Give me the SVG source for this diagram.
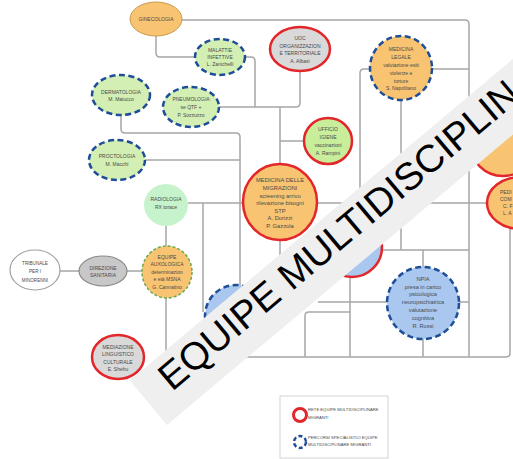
<svg xmlns="http://www.w3.org/2000/svg" width="513" height="459" viewBox="0 0 513 459">
<style>
.ln{fill:none;stroke:#a6a6a6;stroke-width:1.5;stroke-linejoin:round}
.t{font-family:"Liberation Sans",Arial,sans-serif;fill:#4a4a4a;text-anchor:middle;font-size:5px}
.or{fill:#f8c471}
.gr{fill:#d3efb3}
.bl{fill:#a9c7ef}
.gy{fill:#d9d9d9}
.dash{stroke:#1f4e99;stroke-width:2.5;stroke-dasharray:6 3.5}
.red{stroke:#e3262a;stroke-width:2.5}
</style>
<rect width="513" height="459" fill="#fff"/>
<g id="connectors">
<path class="ln" d="M182 20H465Q469 20 469 24V357"/>
<path class="ln" d="M156 36V53Q156 57 160 57H196"/>
<path class="ln" d="M245 57H251Q255 57 255 61V107"/>
<path class="ln" d="M219 107H296Q300 107 300 103V72"/>
<path class="ln" d="M280 107V165"/>
<path class="ln" d="M304 141H280"/>
<path class="ln" d="M121 115V129Q121 133 125 133H236Q240 133 240 137V287"/>
<path class="ln" d="M145 160H240"/>
<path class="ln" d="M188 203H244"/>
<path class="ln" d="M203 203V312"/>
<path class="ln" d="M166 226V246"/>
<path class="ln" d="M60 271H79"/>
<path class="ln" d="M127 271H142"/>
<path class="ln" d="M166 298V353Q166 357 170 357H238"/>
<path class="ln" d="M280 240V300"/>
<path class="ln" d="M317 203H488"/>
<path class="ln" d="M370 69H364Q360 69 360 73V203"/>
<path class="ln" d="M432 69H469"/>
<path class="ln" d="M401 100V250"/>
<path class="ln" d="M383 250H469"/>
<path class="ln" d="M423 250V267"/>
<path class="ln" d="M318 302H387"/>
<path class="ln" d="M459 302H469"/>
<path class="ln" d="M423 339V357"/>
<path class="ln" d="M350 277V357"/>
<path class="ln" d="M350 312H309Q305 312 305 316V357"/>
<path class="ln" d="M237 347V357H506Q510 357 510 353V229"/>
</g>
<g id="ginecologia">
<ellipse class="or" cx="156" cy="19" rx="26" ry="17" stroke="#c99a52" stroke-width="1"/>
<text class="t" x="156" y="21">GINECOLOGIA</text>
</g>
<g id="malattie-infettive">
<ellipse class="gr dash" cx="220" cy="57" rx="25" ry="18"/>
<text class="t" x="220" y="52">MALATTIE</text>
<text class="t" x="220" y="59">INFETTIVE</text>
<text class="t" x="220" y="66">L. Zanichelli</text>
</g>
<g id="uoc">
<ellipse class="gy red" cx="300" cy="49" rx="30" ry="22"/>
<text class="t" x="300" y="40">UOC</text>
<text class="t" x="300" y="47.5">ORGANIZZAZION</text>
<text class="t" x="300" y="55">E TERRITORIALE</text>
<text class="t" x="300" y="63">A. Albasi</text>
</g>
<g id="medicina-legale">
<ellipse class="or dash" cx="401" cy="68" rx="31" ry="32"/>
<text class="t" x="401" y="51">MEDICINA</text>
<text class="t" x="401" y="59">LEGALE</text>
<text class="t" x="401" y="67">valutazione esiti</text>
<text class="t" x="401" y="75">violenze e</text>
<text class="t" x="401" y="83">torture</text>
<text class="t" x="401" y="90">S. Napolitano</text>
</g>
<g id="dermatologia">
<ellipse class="gr dash" cx="121" cy="95" rx="29" ry="20"/>
<text class="t" x="121" y="94">DERMATOLOGIA</text>
<text class="t" x="121" y="101">M. Maiucco</text>
</g>
<g id="pneumologia">
<ellipse class="gr dash" cx="191" cy="107" rx="28" ry="20"/>
<text class="t" x="191" y="101">PNEUMOLOGIA</text>
<text class="t" x="191" y="109">se QTF +</text>
<text class="t" x="191" y="117">P. Sozzuzzo</text>
</g>
<g id="ufficio-igiene">
<ellipse cx="328" cy="141" rx="24" ry="23" fill="#c8ee9c" class="red"/>
<text class="t" x="328" y="131">UFFICIO</text>
<text class="t" x="328" y="139">IGIENE</text>
<text class="t" x="328" y="147">vaccinazioni</text>
<text class="t" x="328" y="155">A. Rampini</text>
</g>
<g id="proctologia">
<ellipse class="gr dash" cx="117" cy="160" rx="28" ry="20"/>
<text class="t" x="117" y="158">PROCTOLOGIA</text>
<text class="t" x="117" y="166">M. Macchi</text>
</g>
<g id="radiologia">
<ellipse cx="166" cy="205" rx="22" ry="21" fill="#c7f3cc"/>
<text class="t" x="166" y="201">RADIOLOGIA</text>
<text class="t" x="166" y="209">RX torace</text>
</g>
<g id="medicina-migrazioni">
<ellipse class="or red" cx="280" cy="202" rx="37" ry="38"/>
<text class="t" x="280" y="182" style="font-size:5.8px">MEDICINA DELLE</text>
<text class="t" x="280" y="190" style="font-size:5.8px">MIGRAZIONI</text>
<text class="t" x="280" y="197.5" style="font-size:5.8px">screening arrivo</text>
<text class="t" x="280" y="205" style="font-size:5.8px">rilevazione bisogni</text>
<text class="t" x="280" y="212.5" style="font-size:5.8px">STP</text>
<text class="t" x="280" y="220" style="font-size:5.8px">A. Dorizzi</text>
<text class="t" x="280" y="228" style="font-size:5.8px">P. Gazzola</text>
</g>
<g id="tribunale">
<ellipse cx="35" cy="270" rx="25" ry="20" fill="#fff" stroke="#a0a0a0" stroke-width="1.2"/>
<text class="t" x="35" y="265" style="font-size:4.6px">TRIBUNALE</text>
<text class="t" x="35" y="273" style="font-size:4.6px">PER I</text>
<text class="t" x="35" y="282" style="font-size:4.6px">MINORENNI</text>
</g>
<g id="direzione">
<ellipse cx="103" cy="271" rx="24" ry="15" fill="#c8c8c8" stroke="#8a8a8a" stroke-width="1.2"/>
<text class="t" x="103" y="270">DIREZIONE</text>
<text class="t" x="103" y="277">SANITARIA</text>
</g>
<g id="equipe-auxologica">
<ellipse class="or" cx="167" cy="272" rx="25" ry="26" stroke="#6aa84f" stroke-width="1.5" stroke-dasharray="3 2"/>
<text class="t" x="167" y="259">EQUIPE</text>
<text class="t" x="167" y="266">AUXOLOGICA</text>
<text class="t" x="167" y="274">determinazion</text>
<text class="t" x="167" y="281">e età MSNA</text>
<text class="t" x="167" y="289">G. Cannatino</text>
</g>
<g id="mediazione">
<ellipse class="gy red" cx="118" cy="357" rx="26" ry="22"/>
<text class="t" x="118" y="349">MEDIAZIONE</text>
<text class="t" x="118" y="356">LINGUISTICO</text>
<text class="t" x="118" y="364">CULTURALE</text>
<text class="t" x="118" y="371">E. Shehu</text>
</g>
<g id="npia">
<ellipse class="bl dash" cx="423" cy="303" rx="36" ry="36"/>
<text class="t" x="423" y="281" style="font-size:5.6px">NPIA</text>
<text class="t" x="423" y="289" style="font-size:5.6px">presa in carico</text>
<text class="t" x="423" y="296" style="font-size:5.6px">psicologica</text>
<text class="t" x="423" y="304" style="font-size:5.6px">neuropsichiatrica</text>
<text class="t" x="423" y="312" style="font-size:5.6px">valutazione</text>
<text class="t" x="423" y="320" style="font-size:5.6px">cognitiva</text>
<text class="t" x="423" y="328" style="font-size:5.6px">R. Rossi</text>
</g>
<g id="node-blue-hidden">
<ellipse class="bl dash" cx="236" cy="316" rx="31" ry="31"/>
</g>
<g id="node-red-blue-hidden">
<ellipse class="bl red" cx="352" cy="247" rx="30" ry="30"/>
</g>
<g id="node-orange-hidden">
<ellipse class="or red" cx="503" cy="143" rx="33" ry="33"/>
</g>
<g id="pediatria">
<ellipse class="or red" cx="521" cy="203" rx="34" ry="26"/>
<text class="t" x="500" y="194" style="text-anchor:start">PEDI</text>
<text class="t" x="500" y="201" style="text-anchor:start">COM</text>
<text class="t" x="503" y="208" style="text-anchor:start">C. F</text>
<text class="t" x="503" y="215" style="text-anchor:start">L. A</text>
</g>
<g id="watermark" transform="rotate(-40 172 392)">
<rect x="147" y="356" width="620" height="58" fill="#efefef"/>
<text x="172" y="392" font-family="Liberation Sans, Arial, sans-serif" font-size="38.5" fill="#000">EQUIPE MULTIDISCIPLINARE</text>
</g>
<g id="legend">
<rect x="280" y="396" width="108" height="62" fill="#fff" stroke="#d4d4d4" stroke-width="1"/>
<circle cx="300" cy="415" r="6.5" fill="none" stroke="#e3262a" stroke-width="3"/>
<text x="308" y="411" font-family="Liberation Sans, Arial, sans-serif" font-size="4.2" fill="#4a4a4a">RETE EQUIPE MULTIDISCIPLINARE</text>
<text x="308" y="419" font-family="Liberation Sans, Arial, sans-serif" font-size="4.2" fill="#4a4a4a">MIGRANTI</text>
<circle cx="300" cy="442" r="6" fill="none" stroke="#1f4e99" stroke-width="2.5" stroke-dasharray="4 2.5"/>
<text x="308" y="439" font-family="Liberation Sans, Arial, sans-serif" font-size="4.2" fill="#4a4a4a">PERCORSI SPECIALISTICI EQUIPE</text>
<text x="308" y="446" font-family="Liberation Sans, Arial, sans-serif" font-size="4.2" fill="#4a4a4a">MULTIDISCIPLINARE MIGRANTI</text>
</g>
</svg>
